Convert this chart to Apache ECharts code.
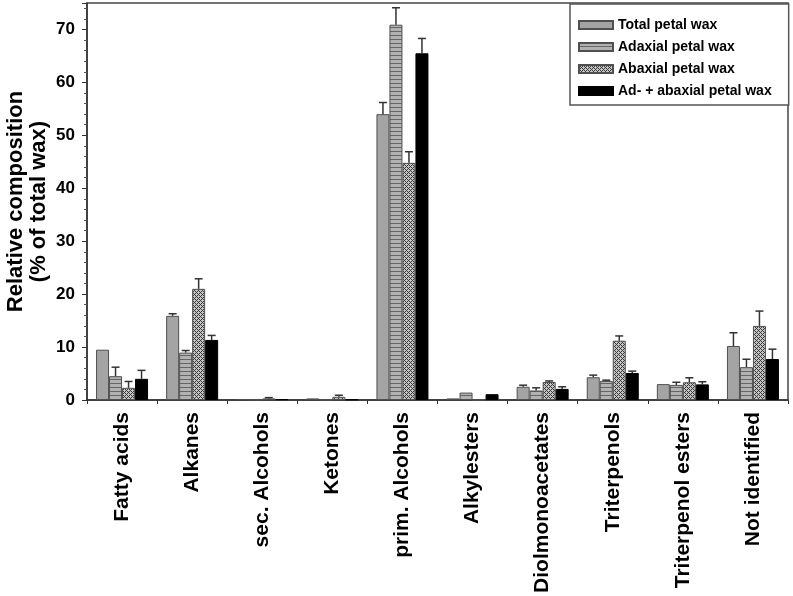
<!DOCTYPE html>
<html><head><meta charset="utf-8">
<script src="https://cdn.jsdelivr.net/npm/echarts@6/dist/echarts.min.js"></script>
<style>html,body{margin:0;padding:0;background:#fff}#c{width:793px;height:596px}</style>
</head><body><div id="c"></div>
<script>
const categories = ['Fatty acids','Alkanes','sec. Alcohols','Ketones','prim. Alcohols','Alkylesters','Diolmonoacetates','Triterpenols','Triterpenol esters','Not identified'];
const seriesNames = ['Total petal wax','Adaxial petal wax','Abaxial petal wax','Ad- + abaxial petal wax'];
const totalVals   = [9.5, 15.9, 0.15, 0.3, 54.0, 0.3, 2.5, 4.3, 3.0, 10.2];
const totalErr    = [0.1, 0.4, 0.05, 0.1, 2.2, 0.05, 0.3, 0.4, 0.1, 2.5];
const adaxVals    = [4.5, 8.95, 0.05, 0.05, 70.9, 1.4, 1.8, 3.6, 2.85, 6.2];
const adaxErr     = [1.7, 0.4, 0.05, 0.05, 3.2, 0.05, 0.5, 0.15, 0.5, 1.5];
const abaxVals    = [2.3, 21.0, 0.3, 0.6, 44.8, 0, 3.4, 11.2, 3.35, 14.0];
const abaxErr     = [1.2, 1.9, 0.15, 0.3, 2.1, 0, 0.2, 0.9, 0.85, 2.8];
const bothVals    = [4.0, 11.35, 0.15, 0.1, 65.5, 1.1, 2.1, 5.1, 2.95, 7.75];
const bothErr     = [1.6, 0.85, 0.05, 0.05, 2.8, 0.05, 0.4, 0.35, 0.5, 1.85];
const yTicks = [0,10,20,30,40,50,60,70];

function stripes(){
  const c=document.createElement('canvas');c.width=4;c.height=4;const x=c.getContext('2d');
  x.fillStyle='#b2b2b2';x.fillRect(0,0,4,4);x.fillStyle='#666666';x.fillRect(0,3,4,1);return c;
}
function hatch(){
  const c=document.createElement('canvas');c.width=4;c.height=4;const x=c.getContext('2d');
  x.fillStyle='#c4c4c4';x.fillRect(0,0,4,4);x.fillStyle='#3c3c3c';
  for(let i=0;i<4;i++)for(let j=0;j<4;j++){ if((i+j)%4===0||((i-j+4)%4)===0) x.fillRect(i,j,1,1);} return c;
}
const BW = 13;
const styles = [
  {color:'#a4a4a4', borderColor:'#505050', borderWidth:1},
  {color:{image:stripes(),repeat:'repeat'}, borderColor:'#505050', borderWidth:1},
  {color:{image:hatch(),repeat:'repeat'}, borderColor:'#505050', borderWidth:1},
  {color:'#000000', borderColor:'#000', borderWidth:1}
];
const vals=[totalVals,adaxVals,abaxVals,bothVals];
const errs=[totalErr,adaxErr,abaxErr,bothErr];
const FONT='"Liberation Sans", Arial, sans-serif';
const series=[];
vals.forEach((v,i)=>{
  series.push({name:seriesNames[i],type:'bar',data:v,barWidth:BW,barGap:'0%',itemStyle:styles[i],z:2});
});
vals.forEach((v,i)=>{
  series.push({type:'custom',z:3,silent:true,
    data:v.map((val,k)=>[k,val,errs[i][k]]),
    encode:{x:0,y:1},
    renderItem:function(params,api){
      const k=api.value(0),val=api.value(1),e=api.value(2);
      if(!(e>0.1)) return null;
      const p0=api.coord([k,val]); const p1=api.coord([k,val+e]);
      const x=p0[0]+(i-1.5)*BW;
      return {type:'group',children:[
        {type:'line',shape:{x1:x,y1:p0[1],x2:x,y2:p1[1]},style:{stroke:'#333',lineWidth:1.5}},
        {type:'line',shape:{x1:x-4,y1:p1[1],x2:x+4,y2:p1[1]},style:{stroke:'#333',lineWidth:1.5}}
      ]};
    }});
});
const chart=echarts.init(document.getElementById('c'),null,{renderer:'canvas'});
chart.setOption({
  backgroundColor:'#fff',
  animation:false,
  grid:{left:87,right:5,top:3,bottom:196,show:true,borderColor:'#444',borderWidth:1.5,outerBoundsMode:'none',containLabel:false},
  legend:{data:seriesNames,orient:'vertical',left:570,top:4,itemWidth:34,itemHeight:8,itemGap:8,icon:'rect',
    padding:[14,17,7,8],borderColor:'#555',borderWidth:1.5,backgroundColor:'#fff',
    textStyle:{fontFamily:FONT,fontWeight:'bold',fontSize:14,color:'#000'}},
  xAxis:{type:'category',data:categories,
    axisLine:{lineStyle:{color:'#333',width:1.5}},
    axisTick:{show:true,length:4,lineStyle:{color:'#333'}},
    axisLabel:{rotate:90,interval:0,margin:12,fontFamily:FONT,fontWeight:'bold',fontSize:21,color:'#000'}},
  yAxis:{type:'value',min:0,max:75,interval:10,
    name:'Relative composition\n(% of total wax)',nameLocation:'middle',nameGap:37,nameMoveOverlap:false,
    nameTextStyle:{fontFamily:FONT,fontWeight:'bold',fontSize:22,lineHeight:23,color:'#000'},
    axisLine:{show:true,lineStyle:{color:'#333',width:1.5}},
    axisTick:{show:true,length:5,lineStyle:{color:'#333'}},
    minorTick:{show:true,splitNumber:5,length:3,lineStyle:{color:'#555'}},
    splitLine:{show:false},
    axisLabel:{margin:12,fontFamily:FONT,fontWeight:'bold',fontSize:17,color:'#000',
      formatter:function(v){return yTicks.indexOf(v)>=0?String(v):'';}}},
  series:series
});
</script></body></html>
